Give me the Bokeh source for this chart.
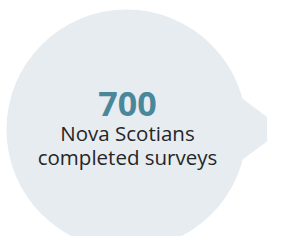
from bokeh.plotting import figure
from bokeh.models import Range1d
from bokeh.core.properties import value
from bokeh.embed import file_html
from bokeh.resources import INLINE

count = ["700"]
label_lines = ["Nova Scotians", "completed surveys"]

W, H = 267, 236
p = figure(width=W, height=H, output_backend="svg", toolbar_location=None,
           x_range=Range1d(0, W), y_range=Range1d(H, 0), min_border=0)
p.axis.visible = False
p.grid.visible = False
p.outline_line_color = None
p.background_fill_color = "white"
p.border_fill_color = "white"

bubble = "#e7ecf0"
p.circle(x=[126], y=[129], radius=120, fill_color=bubble, line_color=None)
p.patch(x=[238, 283, 238], y=[95, 129, 162], fill_color=bubble, line_color=None)

p.text(x=[127], y=[103], text=count, text_font=value("Open Sans"),
       text_font_size="34px", text_font_style="bold", text_color="#4a879b",
       text_align="center", text_baseline="alphabetic")
p.text(x=[127, 127], y=[132, 156], text=label_lines, text_font=value("Open Sans"),
       text_font_size="20.5px", text_color="#262626",
       text_align="center", text_baseline="alphabetic")

open("out.html", "w").write(file_html(p, INLINE))
